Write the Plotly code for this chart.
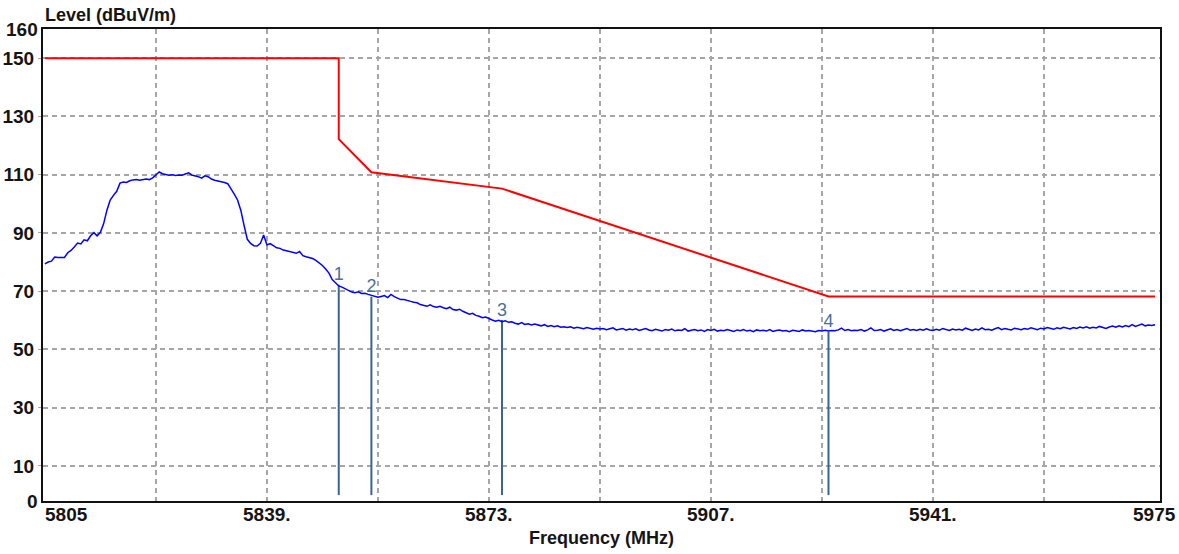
import plotly.graph_objects as go

# sweep start/step of the measured trace (MHz)
f_start = 5805.0
f_step = 0.5

# measured level, dBuV/m, one value per 0.5 MHz from 5805 to 5975
level = [
    79.4, 80.0, 80.3, 81.7, 81.6, 81.7, 81.6, 83.2, 84.0, 85.2,
    86.5, 86.2, 87.6, 87.3, 89.0, 90.1, 89.0, 90.2, 93.2, 97.8,
    101.3, 102.9, 104.3, 107.1, 107.5, 107.3, 107.9, 108.2, 108.3, 108.1,
    108.3, 108.5, 108.3, 108.9, 109.9, 110.9, 110.3, 110.1, 109.8, 110.0,
    109.7, 109.9, 109.8, 110.2, 110.6, 109.9, 109.7, 109.3, 108.8, 109.6,
    109.3, 108.5, 108.1, 107.9, 107.5, 107.3, 106.9, 105.3, 103.3, 101.3,
    97.8, 92.6, 87.8, 86.4, 85.6, 85.5, 86.4, 89.3, 85.9, 86.3,
    85.5, 84.9, 84.7, 84.1, 83.9, 83.6, 83.2, 83.0, 83.6, 82.2,
    81.8, 81.5, 81.2, 80.6, 79.8, 78.8, 77.6, 76.2, 74.0, 72.8,
    71.8, 71.4, 70.8, 70.4, 69.7, 69.5, 69.8, 69.2, 69.3, 68.9,
    68.5, 68.3, 67.9, 68.2, 68.5, 67.8, 68.9, 68.1, 67.7, 67.1,
    67.1, 66.7, 66.5, 66.2, 66.0, 65.4, 65.1, 64.8, 65.3, 64.7,
    64.5, 64.8, 64.3, 64.0, 64.5, 63.7, 63.5, 63.8, 63.1, 62.7,
    62.1, 62.4, 61.7, 61.4, 60.9, 61.1, 60.5, 60.1, 59.7, 60.0,
    59.5, 59.8, 59.3, 59.5, 59.0, 58.7, 59.2, 58.6, 58.8, 58.4,
    58.7, 58.3, 58.1, 58.5, 57.9, 58.2, 57.8, 58.1, 57.6, 57.8,
    57.5, 57.8, 57.3, 57.6, 57.4, 57.1, 57.5, 57.2, 56.9, 57.3,
    57.0, 57.2, 56.8, 57.1, 57.4, 56.7, 56.9, 57.2, 56.6, 57.0,
    56.8, 57.1, 56.5, 56.8, 57.2, 56.7, 56.4, 56.9, 56.7, 56.3,
    56.8, 56.6, 57.0, 56.4, 56.7, 56.5, 57.1, 56.3, 56.6, 56.8,
    56.4, 56.7, 56.2, 56.8, 56.5, 56.9, 56.3, 56.6, 56.4, 56.8,
    56.5, 56.2, 56.7, 56.4, 56.8, 56.3, 56.6, 56.1, 56.7, 56.4,
    56.6, 56.3, 56.8, 56.2, 56.5, 56.7, 56.3, 56.5, 56.1, 56.6,
    56.4, 56.2, 56.7, 56.3, 56.5, 56.4, 56.1, 56.5, 56.3, 56.6,
    56.3, 56.5, 56.4, 56.7, 57.3, 56.5, 56.8, 56.4, 56.6, 56.5,
    56.8, 56.3, 56.7, 57.4, 56.5, 56.6, 56.8, 56.3, 56.7, 57.1,
    56.5, 56.8, 56.4, 56.7, 57.2, 56.6, 56.8, 56.5, 56.9, 56.6,
    57.1, 56.7, 56.5, 56.9, 56.6, 57.2, 56.8, 56.5, 57.0, 56.7,
    56.9, 56.6, 57.3, 56.8, 56.5, 57.0, 56.7, 57.4, 56.8, 56.9,
    56.6, 57.1, 57.5, 56.8, 57.2, 56.9, 56.7, 57.3, 57.0, 56.8,
    57.2, 56.9, 57.4, 57.1, 56.8, 57.3, 57.0, 57.5, 57.2, 56.9,
    57.4, 57.1, 57.6, 57.3, 57.0, 57.5, 57.2, 57.7, 57.4, 57.8,
    57.3, 57.6, 57.4, 57.9, 57.5, 57.2, 57.7, 58.0, 57.6, 58.1,
    57.7, 58.2, 57.8, 58.5, 57.9, 58.3, 58.7, 58.1, 58.4, 58.2,
    58.5,
]
freq = [f_start + f_step * i for i in range(len(level))]

# limit line
limit_freq = [5805, 5850, 5850, 5855, 5875, 5925, 5975]
limit_level = [150, 150, 122.2, 110.8, 105.2, 68.2, 68.2]

# markers
marker_labels = ["1", "2", "3", "4"]
marker_freq = [5850, 5855, 5875, 5925]
marker_level = [72.2, 68.1, 60.1, 56.1]

# axis labels
x_grid = [5822, 5839, 5856, 5873, 5890, 5907, 5924, 5941, 5958]
x_labels = {5805: "5805", 5839: "5839.", 5873: "5873.", 5907: "5907.",
            5941: "5941.", 5975: "5975"}
y_ticks = [10, 30, 50, 70, 90, 110, 130, 150]

FONT = "Arial, Liberation Sans, sans-serif"
TXT = "#141414"
MARK = "#3d6391"

fig = go.Figure()

# marker stems
mx, my = [], []
for f, v in zip(marker_freq, marker_level):
    mx += [f, f, None]
    my += [0, v, None]
fig.add_trace(go.Scatter(x=mx, y=my, mode="lines",
                         line=dict(color=MARK, width=2), hoverinfo="skip"))

fig.add_trace(go.Scatter(x=limit_freq, y=limit_level, mode="lines",
                         line=dict(color="#ff0000", width=2)))
fig.add_trace(go.Scatter(x=freq, y=level, mode="lines",
                         line=dict(color="#0000ff", width=1.5)))

fig.add_trace(go.Scatter(x=marker_freq, y=marker_level, mode="text",
                         text=marker_labels, textposition="top center",
                         textfont=dict(family=FONT, size=18, color="#4a6f99")))

annotations = []
for f, t in x_labels.items():
    annotations.append(dict(
        x=f, xref="x", y=0, yref="paper", yanchor="middle",
        xanchor="left" if f == 5805 else "center",
        xshift=-2 if f == 5805 else 0, yshift=-13,
        text=t, showarrow=False,
        font=dict(family=FONT, size=19, color=TXT, weight="bold")))
for v, t in [(160, "160"), (0, "0")]:
    annotations.append(dict(
        x=0, xref="paper", y=v, yref="y", xanchor="right", yanchor="middle",
        xshift=-3, yshift=-6 if v == 0 else 0,
        text=t, showarrow=False,
        font=dict(family=FONT, size=19, color=TXT, weight="bold")))
annotations.append(dict(
    x=0.5, xref="paper", y=0, yref="paper", yanchor="middle", yshift=-37,
    text="Frequency (MHz)", showarrow=False,
    font=dict(family=FONT, size=18, color=TXT, weight="bold")))
annotations.append(dict(
    x=0, xref="paper", y=1, yref="paper", xanchor="left", yanchor="middle",
    yshift=14, text="Level (dBuV/m)", showarrow=False,
    font=dict(family=FONT, size=18, color=TXT, weight="bold")))

fig.update_xaxes(
    range=[5804.71, 5975.77], tickvals=x_grid, showticklabels=False,
    showgrid=True, gridcolor="#a6a6a6", gridwidth=1.5, griddash="5px,4px",
    showline=True, linecolor="#111111", linewidth=2, mirror=True,
    zeroline=False, ticks="", automargin=False)
fig.update_yaxes(
    range=[-2.03, 160], tickvals=y_ticks, ticktext=[str(v) for v in y_ticks],
    tickfont=dict(family=FONT, size=19, color=TXT, weight="bold"),
    showgrid=True, gridcolor="#a6a6a6", gridwidth=1.5, griddash="5px,4px",
    showline=True, linecolor="#111111", linewidth=2, mirror=True,
    zeroline=False, ticks="outside", ticklen=3, tickcolor="#a6a6a6",
    automargin=False)

fig.update_layout(
    width=1179, height=554,
    margin=dict(l=43, r=19, t=29, b=53),
    paper_bgcolor="white", plot_bgcolor="white",
    showlegend=False,
    annotations=annotations,
    font=dict(family=FONT, color=TXT),
)

# drop the browser's default 8px body margin so the figure sits at the corner
fig.write_html("out.html", config={"displayModeBar": False},
               post_script="document.body.style.margin = '0';")
